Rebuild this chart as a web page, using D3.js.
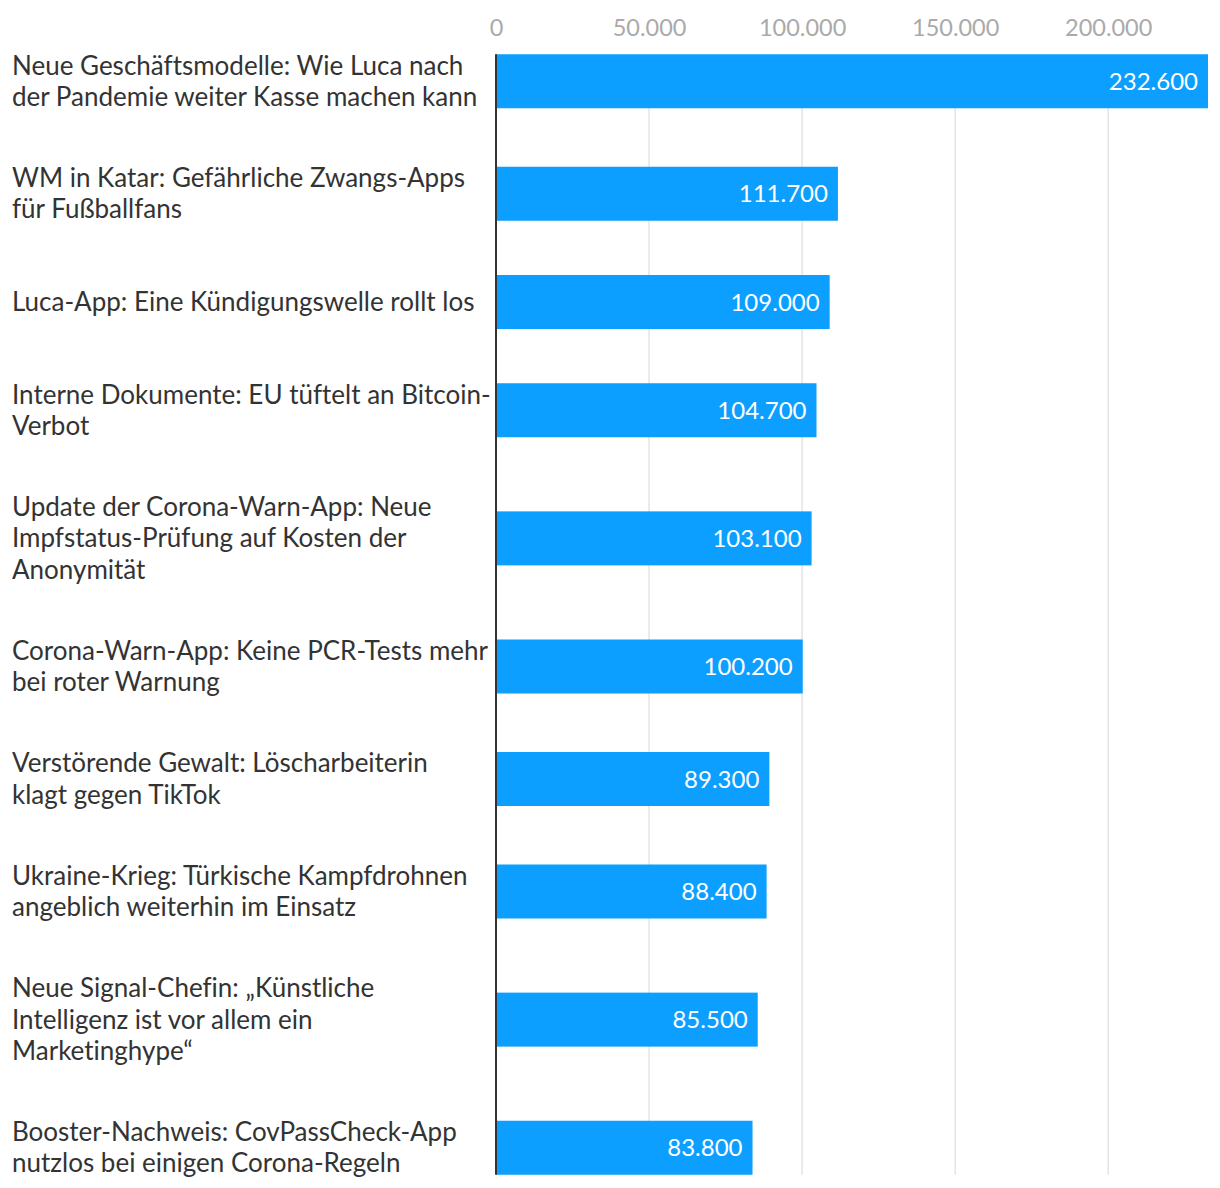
<!DOCTYPE html>
<html><head><meta charset="utf-8">
<script src="https://cdn.jsdelivr.net/npm/d3@7"></script>
<style>body{margin:0;background:#fff}svg{display:block}text{font-variant-ligatures:none}</style>
</head><body>
<script>
const categories = [
  "Neue Geschäftsmodelle: Wie Luca nach\nder Pandemie weiter Kasse machen kann",
  "WM in Katar: Gefährliche Zwangs-Apps\nfür Fußballfans",
  "Luca-App: Eine Kündigungswelle rollt los",
  "Interne Dokumente: EU tüftelt an Bitcoin-\nVerbot",
  "Update der Corona-Warn-App: Neue\nImpfstatus-Prüfung auf Kosten der\nAnonymität",
  "Corona-Warn-App: Keine PCR-Tests mehr\nbei roter Warnung",
  "Verstörende Gewalt: Löscharbeiterin\nklagt gegen TikTok",
  "Ukraine-Krieg: Türkische Kampfdrohnen\nangeblich weiterhin im Einsatz",
  "Neue Signal-Chefin: „Künstliche\nIntelligenz ist vor allem ein\nMarketinghype“",
  "Booster-Nachweis: CovPassCheck-App\nnutzlos bei einigen Corona-Regeln"
];
const values = [232600, 111700, 109000, 104700, 103100, 100200, 89300, 88400, 85500, 83800];
const tickValues = [0, 50000, 100000, 150000, 200000];
const tickLabels = ["0", "50.000", "100.000", "150.000", "200.000"];

const W = 1220, H = 1188;
const x0 = 496, x1 = 1208;
const barH = 54, lineH = 31.25, rowPad = 50, startY = 50;
const fmt = v => d3.format(",")(v).replace(/,/g, ".");

const svg = d3.select("body").append("svg").attr("width", W).attr("height", H);
const x = d3.scaleLinear().domain([0, d3.max(values)]).range([x0, x1]);

const rows = categories.map((c, i) => ({lines: c.split("\n"), value: values[i]}));
let yy = startY;
rows.forEach(r => { r.h = Math.max(barH, r.lines.length * lineH); r.c = yy + r.h / 2; yy += r.h + rowPad; });
const chartTop = rows[0].c - barH / 2, chartBottom = rows[rows.length - 1].c + barH / 2;

// grid
svg.append("g").selectAll("line").data(tickValues.slice(1)).join("line")
  .attr("x1", d => x(d)).attr("x2", d => x(d))
  .attr("y1", chartTop).attr("y2", chartBottom)
  .attr("stroke", "#e4e4e4").attr("stroke-width", 1.5);

// axis tick labels
const ax = svg.append("g").attr("transform", `translate(0,${chartTop})`)
  .call(d3.axisTop(x).tickValues(tickValues).tickFormat((d, i) => tickLabels[i]).tickSize(0).tickPadding(18));
ax.select(".domain").remove();
ax.selectAll("text").attr("font-family", "Lato").attr("font-size", 23.5).attr("fill", "#aaaaaa");

// bars
svg.append("g").selectAll("rect").data(rows).join("rect")
  .attr("x", x(0)).attr("y", d => d.c - barH / 2)
  .attr("width", d => x(d.value) - x(0)).attr("height", barH)
  .attr("fill", "#0c9fff");

// values
svg.append("g").selectAll("text").data(rows).join("text")
  .attr("x", d => x(d.value) - 10).attr("y", d => d.c + 8.5)
  .attr("text-anchor", "end").attr("font-family", "Lato").attr("font-size", 24)
  .attr("fill", "#fff").text(d => fmt(d.value));

// labels
const lg = svg.append("g").selectAll("text").data(rows).join("text")
  .attr("font-family", "Lato").attr("font-size", 26).attr("fill", "#333");
lg.each(function(d) {
  const n = d.lines.length;
  d3.select(this).selectAll("tspan").data(d.lines).join("tspan")
    .attr("x", 12)
    .attr("y", (l, j) => d.c + (j - (n - 1) / 2) * lineH + 9)
    .text(l => l);
});

// axis line
svg.append("line").attr("x1", x(0)).attr("x2", x(0))
  .attr("y1", chartTop).attr("y2", chartBottom)
  .attr("stroke", "#333").attr("stroke-width", 2);
</script>
</body></html>
